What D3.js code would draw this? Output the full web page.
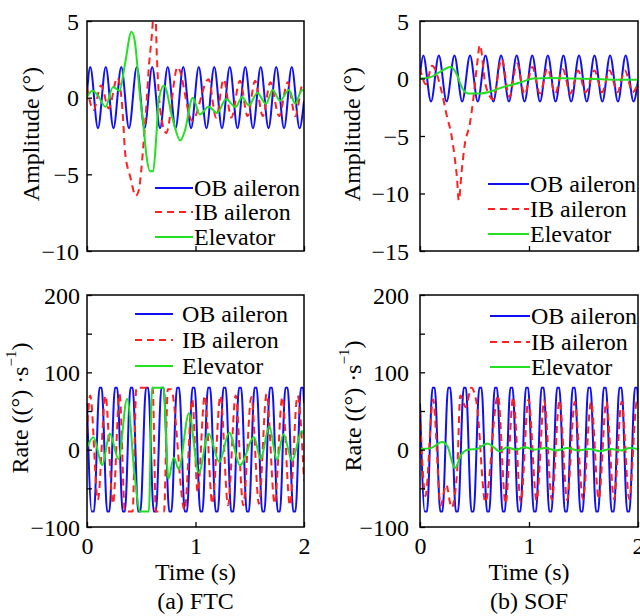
<!DOCTYPE html>
<html>
<meta charset="utf-8">
<script src="https://d3js.org/d3.v7.min.js"></script>
<style>
    body { margin: 0; background: #fff; }
    text { font-family: "Liberation Serif", "Times New Roman", serif; }
</style>
<body>
<div id="chart"></div>
<script>
// values, [time (s), value]
var seriesNames = ["OB aileron", "IB aileron", "Elevator"];
var timeTicks = [0, 1, 2];
var ftcAmpTicks = [5, 0, -5, -10];
var sofAmpTicks = [5, 0, -5, -10, -15];
var rateTicks = [200, 150, 100, 50, 0, -50, -100];
var rateTickLabels = [200, 100, 0, -100];

// OB aileron is the same excitation in both cases
var obAmp = [[0,0.3],[0.03,2],[0.101,-2],[0.173,2],[0.244,-2],[0.316,2],[0.387,-2],[0.459,2],[0.53,-2],
    [0.601,2],[0.673,-2],[0.744,2],[0.816,-2],[0.887,2],[0.959,-2],[1.03,2],[1.101,-2],[1.173,2],[1.244,-2],
    [1.316,2],[1.387,-2],[1.459,2],[1.53,-2],[1.601,2],[1.673,-2],[1.744,2],[1.816,-2],[1.887,2],[1.959,-2],[2,-0.2]];
var obRate = [[0,60],[0.044,-80],[0.064,-80],[0.115,80],[0.135,80],[0.186,-80],[0.206,-80],[0.258,80],[0.278,80],
    [0.329,-80],[0.349,-80],[0.401,80],[0.421,80],[0.472,-80],[0.492,-80],[0.544,80],[0.564,80],[0.615,-80],[0.635,-80],
    [0.686,80],[0.706,80],[0.758,-80],[0.778,-80],[0.829,80],[0.849,80],[0.901,-80],[0.921,-80],[0.972,80],[0.992,80],
    [1.044,-80],[1.064,-80],[1.115,80],[1.135,80],[1.186,-80],[1.206,-80],[1.258,80],[1.278,80],[1.329,-80],[1.349,-80],
    [1.401,80],[1.421,80],[1.472,-80],[1.492,-80],[1.544,80],[1.564,80],[1.615,-80],[1.635,-80],[1.686,80],[1.706,80],
    [1.758,-80],[1.778,-80],[1.829,80],[1.849,80],[1.901,-80],[1.921,-80],[1.972,80],[1.992,80],[2,60]];

// (a) FTC
var ftcAmpIB = [[0,0.7],[0.06,-0.8],[0.13,0.8],[0.2,-0.7],[0.28,1.3],[0.32,-0.2],[0.336,-1.8],[0.35,-3.5],[0.4,-5.2],
    [0.45,-6.4],[0.475,-6.1],[0.52,-3.1],[0.55,-0.2],[0.567,1.7],[0.598,4.1],[0.615,5.6],[0.628,5.8],[0.645,2.5],
    [0.675,-0.8],[0.73,-2.3],[0.835,2.0],[0.97,-1.5],[1.12,1.2],[1.19,-1.3],[1.26,1.2],[1.33,-1.3],[1.41,1.1],
    [1.48,-1.2],[1.55,1.1],[1.62,-1.2],[1.69,1.0],[1.77,-1.2],[1.85,1.0],[1.92,-1.2],[1.99,0.9],[2,0.8]];
var ftcAmpElev = [[0,0.05],[0.05,0.45],[0.1,0.15],[0.17,-0.6],[0.24,0.7],[0.3,0.45],[0.35,2.2],[0.41,4.3],[0.44,3.7],
    [0.49,0.0],[0.52,-1.8],[0.55,-3.9],[0.58,-4.8],[0.61,-4.8],[0.64,-2.4],[0.66,-0.2],[0.71,0.8],[0.79,-1.4],
    [0.86,-2.8],[0.9,-2.2],[0.975,0.0],[1.04,-1.1],[1.12,-0.6],[1.2,-1.0],[1.28,-0.1],[1.37,-0.6],[1.43,0.05],
    [1.49,-0.5],[1.57,0.3],[1.65,-0.4],[1.71,0.5],[1.78,-0.2],[1.86,0.5],[1.92,-0.4],[1.98,0.5],[2,0.45]];
var ftcRateIB = [[0,20],[0.03,70],[0.1,-65],[0.17,70],[0.24,-70],[0.3,72],[0.35,-80],[0.42,-80],[0.455,80],[0.605,80],
    [0.635,-80],[0.71,-80],[0.745,78],[0.775,78],[0.9,-78],[0.97,65],[1.02,-55],[1.085,70],[1.155,-70],[1.23,70],
    [1.3,-72],[1.37,70],[1.44,-72],[1.515,68],[1.585,-70],[1.655,72],[1.73,-70],[1.8,68],[1.87,-72],[1.94,70],[2,-40]];
var ftcRateElev = [[0,3],[0.06,16],[0.14,-20],[0.21,21],[0.29,-12],[0.37,66],[0.44,-35],[0.49,-80],[0.57,-80],[0.6,80],
    [0.705,80],[0.75,-38],[0.8,-10],[0.845,-25],[0.94,47],[1.03,-30],[1.12,21],[1.22,-16],[1.31,22],[1.41,-20],
    [1.54,16],[1.6,-12],[1.68,30],[1.75,-13],[1.81,20],[1.89,-14],[1.98,24],[2,20]];

// (b) SOF
var sofAmpIB = [[0,0.9],[0.055,-0.5],[0.11,1.1],[0.2,-1.2],[0.245,-3.2],[0.29,-5.0],[0.32,-7.0],[0.34,-8.7],[0.355,-10.6],
    [0.385,-7.8],[0.41,-5.8],[0.46,-3.8],[0.49,-1.7],[0.52,0.9],[0.55,2.9],[0.6,-0.5],[0.67,-1.8],[0.75,1.7],[0.82,-1.6],
    [0.89,1.3],[0.96,-1.4],[1.03,1.0],[1.1,-1.3],[1.17,0.9],[1.24,-1.3],[1.31,0.8],[1.38,-1.3],[1.45,0.7],[1.52,-1.2],
    [1.6,0.7],[1.67,-1.2],[1.74,0.7],[1.81,-1.2],[1.88,0.7],[1.95,-1.2],[2,-0.4]];
var sofAmpElev = [[0,0],[0.09,0.1],[0.18,0.55],[0.28,1.0],[0.34,0.3],[0.38,-0.7],[0.44,-1.3],[0.55,-1.3],[0.64,-1.15],
    [0.76,-0.75],[0.92,-0.35],[1.04,0],[1.2,0.05],[1.4,0],[1.6,-0.05],[1.8,-0.1],[2,-0.1]];
var sofRateIB = [[0,50],[0.05,-60],[0.12,65],[0.19,-72],[0.24,-45],[0.29,-75],[0.34,-30],[0.37,70],[0.42,55],[0.47,80],
    [0.52,60],[0.6,-68],[0.715,70],[0.785,-70],[0.855,68],[0.925,-68],[0.995,65],[1.07,-66],[1.14,64],[1.21,-65],
    [1.28,64],[1.35,-65],[1.42,62],[1.495,-64],[1.57,62],[1.64,-64],[1.71,62],[1.78,-64],[1.85,62],[1.92,-64],[1.99,62],[2,60]];
var sofRateElev = [[0,1],[0.1,2],[0.2,10],[0.25,5],[0.32,-24],[0.38,-6],[0.44,0],[0.52,1],[0.62,8],[0.66,5],[0.73,-2],
    [0.8,3],[0.88,0],[0.96,3],[1.05,0],[1.15,2],[1.25,-1],[1.35,2],[1.45,-1],[1.55,1],[1.65,-2],[1.75,1],[1.85,-1],
    [1.92,2],[2,1]];

var colors = ["#1010f0", "#ff2020", "#20e020"];
var dashes = [null, "7,5", null];

var svg = d3.select("#chart").append("svg")
    .attr("width", 640)
    .attr("height", 616)
    .style("background", "#fff");

var panels = [
    { left: 87, right: 304, top: 21, bottom: 251, yDomain: [-10, 5], yTicks: ftcAmpTicks, yLabels: ftcAmpTicks,
      data: [obAmp, ftcAmpIB, ftcAmpElev], ylabel: "Amplitude (°)", labelX: 31, labelY: 134, tickPad: 8,
      leg: { x0: 155, x1: 193, tx: 194, rows: [188, 212, 237] }, xLabels: false },
    { left: 420, right: 638, top: 21, bottom: 251, yDomain: [-15, 5], yTicks: sofAmpTicks, yLabels: sofAmpTicks,
      data: [obAmp, sofAmpIB, sofAmpElev], ylabel: "Amplitude (°)", labelX: 352, labelY: 134, tickPad: 11,
      leg: { x0: 488, x1: 529, tx: 530, rows: [184, 209, 234] }, xLabels: false },
    { left: 87, right: 304, top: 295, bottom: 527, yDomain: [-100, 200], yTicks: rateTicks, yLabels: rateTickLabels,
      data: [obRate, ftcRateIB, ftcRateElev], ylabel: "rate", labelX: 20, labelY: 408, tickPad: 7,
      leg: { x0: 135, x1: 173, tx: 182, rows: [314, 340, 366] }, xLabels: true, caption: "(a) FTC" },
    { left: 420, right: 638, top: 295, bottom: 527, yDomain: [-100, 200], yTicks: rateTicks, yLabels: rateTickLabels,
      data: [obRate, sofRateIB, sofRateElev], ylabel: "rate", labelX: 353, labelY: 406, tickPad: 11,
      leg: { x0: 490, x1: 530, tx: 531, rows: [316, 342, 367] }, xLabels: true, caption: "(b) SOF" }
];

var fmt = d3.format("");

panels.forEach(function (p, i) {
    var x = d3.scaleLinear().domain([0, 2]).range([p.left, p.right]);
    var y = d3.scaleLinear().domain(p.yDomain).range([p.bottom, p.top]);
    var g = svg.append("g");

    g.append("clipPath").attr("id", "clip" + i)
        .append("rect")
        .attr("x", p.left).attr("y", p.top)
        .attr("width", p.right - p.left).attr("height", p.bottom - p.top);

    var line = d3.line()
        .x(function (d) { return x(d[0]); })
        .y(function (d) { return y(d[1]); })
        .curve(d3.curveMonotoneX);

    p.data.forEach(function (s, k) {
        g.append("path")
            .datum(s)
            .attr("clip-path", "url(#clip" + i + ")")
            .attr("d", line)
            .attr("fill", "none")
            .attr("stroke", colors[k])
            .attr("stroke-width", 2)
            .attr("stroke-dasharray", dashes[k]);
    });

    // frame
    g.append("rect")
        .attr("x", p.left).attr("y", p.top)
        .attr("width", p.right - p.left).attr("height", p.bottom - p.top)
        .attr("fill", "none").attr("stroke", "#000").attr("stroke-width", 1.5);

    var yAxis = g.append("g")
        .attr("transform", "translate(" + p.left + ",0)")
        .call(d3.axisLeft(y).tickValues(p.yTicks).tickSize(-5).tickPadding(p.tickPad)
            .tickFormat(function (d) { return p.yLabels.indexOf(d) >= 0 ? fmt(d) : ""; }));
    var xAxis = g.append("g")
        .attr("transform", "translate(0," + p.bottom + ")")
        .call(d3.axisBottom(x).tickValues(timeTicks).tickSize(-5).tickPadding(10)
            .tickFormat(function (d) { return p.xLabels ? fmt(d) : ""; }));
    [yAxis, xAxis].forEach(function (a) {
        a.select(".domain").remove();
        a.attr("font-size", 24).attr("font-family", "Liberation Serif");
        a.selectAll("line").attr("stroke-width", 1.3);
    });
    yAxis.selectAll("text").attr("dy", "0.34em");

    // y label
    var yl = g.append("text")
        .attr("transform", "translate(" + p.labelX + "," + p.labelY + ") rotate(-90)")
        .attr("text-anchor", "middle")
        .attr("dominant-baseline", "central")
        .attr("font-size", 24);
    if (p.ylabel === "rate") {
        yl.append("tspan").text("Rate ((°) ·s");
        yl.append("tspan").attr("dy", -9).attr("font-size", 15).text("−1");
        yl.append("tspan").attr("dy", 9).text(")");
    } else {
        yl.text(p.ylabel);
    }

    if (p.xLabels) {
        g.append("text")
            .attr("x", (p.left + p.right) / 2).attr("y", 572)
            .attr("text-anchor", "middle").attr("dominant-baseline", "central")
            .attr("font-size", 24)
            .text("Time (s)");
        g.append("text")
            .attr("x", (p.left + p.right) / 2).attr("y", 601)
            .attr("text-anchor", "middle").attr("dominant-baseline", "central")
            .attr("font-size", 24)
            .text(p.caption);
    }

    // legend
    seriesNames.forEach(function (name, k) {
        var ly = p.leg.rows[k];
        g.append("line")
            .attr("x1", p.leg.x0).attr("x2", p.leg.x1)
            .attr("y1", ly).attr("y2", ly)
            .attr("stroke", colors[k]).attr("stroke-width", 2)
            .attr("stroke-dasharray", dashes[k]);
        g.append("text")
            .attr("x", p.leg.tx).attr("y", ly)
            .attr("dominant-baseline", "central")
            .attr("font-size", 24)
            .text(name);
    });
});
</script>
</body>
</html>
